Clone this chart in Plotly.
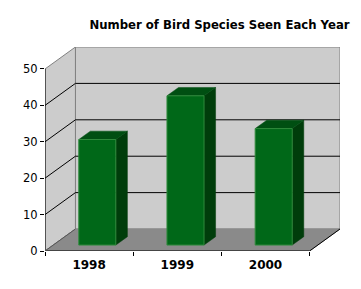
import plotly.graph_objects as go

# ---- data ----
years = ["1998", "1999", "2000"]
species = [29, 41, 32]
y_ticks = [0, 10, 20, 30, 40, 50]
title_text = "Number of Bird Species Seen Each Year"

# ---- 3D geometry (in data units) ----
DX = 0.345   # depth offset along x (categories)
DY = 6.04    # depth offset along y (value units)
YMAX = 50
n = len(years)
x0, x1 = -0.5, n - 0.5
BW = 0.42
F0, F1 = 0.27, 0.65

WALL = "#cccccc"
FLOOR = "#8a8a8a"
EDGE = "#808080"
FRONT = "#006818"
SIDE = "#003d0b"
TOP = "#004f12"
OUTLINE = "#2f8a3c"

fig = go.Figure()

def poly(xs, ys, fill, line_color, lw=1):
    fig.add_trace(go.Scatter(x=xs + [xs[0]], y=ys + [ys[0]], mode="lines", fill="toself",
                             fillcolor=fill, line=dict(color=line_color, width=lw),
                             hoverinfo="skip", showlegend=False))

def line(xs, ys, color, lw=1):
    fig.add_trace(go.Scatter(x=xs, y=ys, mode="lines", line=dict(color=color, width=lw),
                             hoverinfo="skip", showlegend=False, connectgaps=False))

# back wall
poly([x0 + DX, x1 + DX, x1 + DX, x0 + DX], [DY, DY, YMAX + DY, YMAX + DY], WALL, EDGE)
# left side wall
poly([x0, x0 + DX, x0 + DX, x0], [0, DY, YMAX + DY, YMAX], WALL, EDGE)
# floor
poly([x0, x1, x1 + DX, x0 + DX], [0, 0, DY, DY], FLOOR, FLOOR)

# gridlines
gx, gy = [], []
for v in y_ticks[1:-1]:
    gx += [x0, x0 + DX, x1 + DX, None]
    gy += [v, v + DY, v + DY, None]
line(gx, gy, "black", 1)

# bars
for i, v in enumerate(species):
    l = i - BW / 2 + F0 * DX
    r = i + BW / 2 + F0 * DX
    b = F0 * DY
    dxx = (F1 - F0) * DX
    dyy = (F1 - F0) * DY
    # side
    poly([r, r + dxx, r + dxx, r], [b, b + dyy, b + v + dyy, b + v], SIDE, SIDE, 0.5)
    # top
    poly([l, r, r + dxx, l + dxx], [b + v, b + v, b + v + dyy, b + v + dyy], TOP, TOP, 0.5)
    # front
    poly([l, r, r, l], [b, b, b + v, b + v], FRONT, OUTLINE, 1)

# axes lines
line([x0, x0], [0, YMAX], "black", 1)
line([x0, x1, x1 + DX], [0, 0, DY], "black", 1)
line([x0, x0 + DX], [0, DY], "#555555", 1)

fig.update_layout(
    width=361, height=289,
    margin=dict(l=45, r=21, t=47, b=38),
    paper_bgcolor="white", plot_bgcolor="white",
    title=dict(text=title_text, x=219.5 / 361, xanchor="center", xref="container",
               y=1 - 24.5 / 289, yanchor="middle", yref="container",
               font=dict(family="DejaVu Sans", size=11.7, color="black", weight="bold")),
    xaxis=dict(range=[x0, x1 + DX], showgrid=False, zeroline=False, showline=False,
               tickvals=list(range(n)), ticktext=years, ticks="",
               tickfont=dict(family="DejaVu Sans", size=12, color="black", weight="bold"),
               minor=dict(tickvals=[x0 + k for k in range(n + 1)], ticks="outside",
                          ticklen=4, tickcolor="black", tickwidth=1, showgrid=False),
               ticklabelstandoff=5, fixedrange=True),
    yaxis=dict(range=[0, YMAX + DY], showgrid=False, zeroline=False, showline=False,
               tickvals=y_ticks, ticks="outside", ticklen=4, tickcolor="black",
               tickfont=dict(family="DejaVu Sans", size=11.5, color="black"),
               fixedrange=True),
)

fig.write_html("out.html")
